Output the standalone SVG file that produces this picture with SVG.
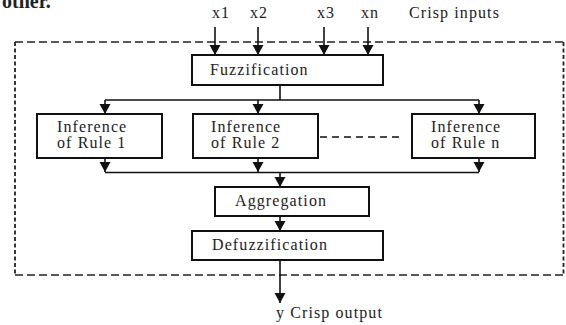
<svg xmlns="http://www.w3.org/2000/svg" width="566" height="325" viewBox="0 0 566 325">
<defs>
<style>
.box{fill:#fff;stroke:#111;stroke-width:2}
.ln{fill:none;stroke:#111;stroke-width:1.6}
.t{font-family:'Liberation Serif','Times New Roman',serif;font-size:16px;letter-spacing:1.1px;fill:#222}
.dh{fill:none;stroke:#222;stroke-width:1.5;stroke-dasharray:8 4}
.dv{fill:none;stroke:#222;stroke-width:1.8;stroke-dasharray:4 2.5}
</style>
<marker id="ah" markerUnits="userSpaceOnUse" markerWidth="12" markerHeight="12" refX="10" refY="5.5" orient="auto">
<path d="M0,0 L10,5.5 L0,11 Z" fill="#111"/>
</marker>
</defs>
<rect width="566" height="325" fill="#fff"/>
<text x="2" y="8" font-family="'Liberation Serif', serif" font-size="20" font-weight="bold" fill="#222">other.</text>
<g id="boundary">
<line class="dh" x1="15" y1="42" x2="564" y2="42"/>
<line class="dh" x1="15" y1="275" x2="564" y2="275"/>
<line class="dv" x1="15" y1="42" x2="15" y2="275"/>
<line class="dv" x1="563.5" y1="42" x2="563.5" y2="275"/>
</g>
<g id="inputs">
<text class="t" x="212" y="18">x1</text>
<text class="t" x="250" y="18">x2</text>
<text class="t" x="317" y="18">x3</text>
<text class="t" x="361" y="18">xn</text>
<text class="t" x="409" y="18">Crisp inputs</text>
</g>
<g id="connectors">
<line class="ln" x1="215" y1="27" x2="215" y2="55" marker-end="url(#ah)"/>
<line class="ln" x1="258" y1="27" x2="258" y2="55" marker-end="url(#ah)"/>
<line class="ln" x1="324" y1="27" x2="324" y2="55" marker-end="url(#ah)"/>
<line class="ln" x1="368" y1="27" x2="368" y2="55" marker-end="url(#ah)"/>
<line class="ln" x1="280" y1="85" x2="280" y2="100"/>
<line class="ln" x1="105" y1="100" x2="479" y2="100"/>
<line class="ln" x1="105" y1="100" x2="105" y2="114" marker-end="url(#ah)"/>
<line class="ln" x1="258" y1="100" x2="258" y2="114" marker-end="url(#ah)"/>
<line class="ln" x1="479" y1="100" x2="479" y2="114" marker-end="url(#ah)"/>
<line class="ln" x1="105" y1="158" x2="105" y2="172" marker-end="url(#ah)"/>
<line class="ln" x1="258" y1="158" x2="258" y2="172" marker-end="url(#ah)"/>
<line class="ln" x1="479" y1="158" x2="479" y2="172" marker-end="url(#ah)"/>
<line class="ln" x1="105" y1="172.5" x2="479" y2="172.5"/>
<line class="ln" x1="280" y1="172" x2="280" y2="187" marker-end="url(#ah)"/>
<line class="ln" x1="280" y1="216" x2="280" y2="231" marker-end="url(#ah)"/>
<line class="ln" x1="280" y1="260" x2="280" y2="303" marker-end="url(#ah)"/>
<line class="ln" x1="320" y1="137" x2="402" y2="137" style="stroke-dasharray:7 5;stroke-width:1.4"/>
</g>
<g id="fuzzification">
<rect class="box" x="192" y="55" width="191" height="30"/>
<text class="t" x="210" y="75">Fuzzification</text>
</g>
<g id="rule1">
<rect class="box" x="37" y="114" width="125" height="44"/>
<text class="t" x="57" y="132">Inference</text>
<text class="t" x="57" y="148">of Rule 1</text>
</g>
<g id="rule2">
<rect class="box" x="193" y="114" width="125" height="44"/>
<text class="t" x="211" y="132">Inference</text>
<text class="t" x="211" y="148">of Rule 2</text>
</g>
<g id="rulen">
<rect class="box" x="412" y="114" width="123" height="44"/>
<text class="t" x="431" y="132">Inference</text>
<text class="t" x="431" y="148">of Rule n</text>
</g>
<g id="aggregation">
<rect class="box" x="215" y="187" width="154" height="29"/>
<text class="t" x="235" y="206">Aggregation</text>
</g>
<g id="defuzzification">
<rect class="box" x="192" y="231" width="191" height="29"/>
<text class="t" x="212" y="250">Defuzzification</text>
</g>
<g id="output">
<text class="t" x="276" y="318">y Crisp output</text>
</g>
</svg>
